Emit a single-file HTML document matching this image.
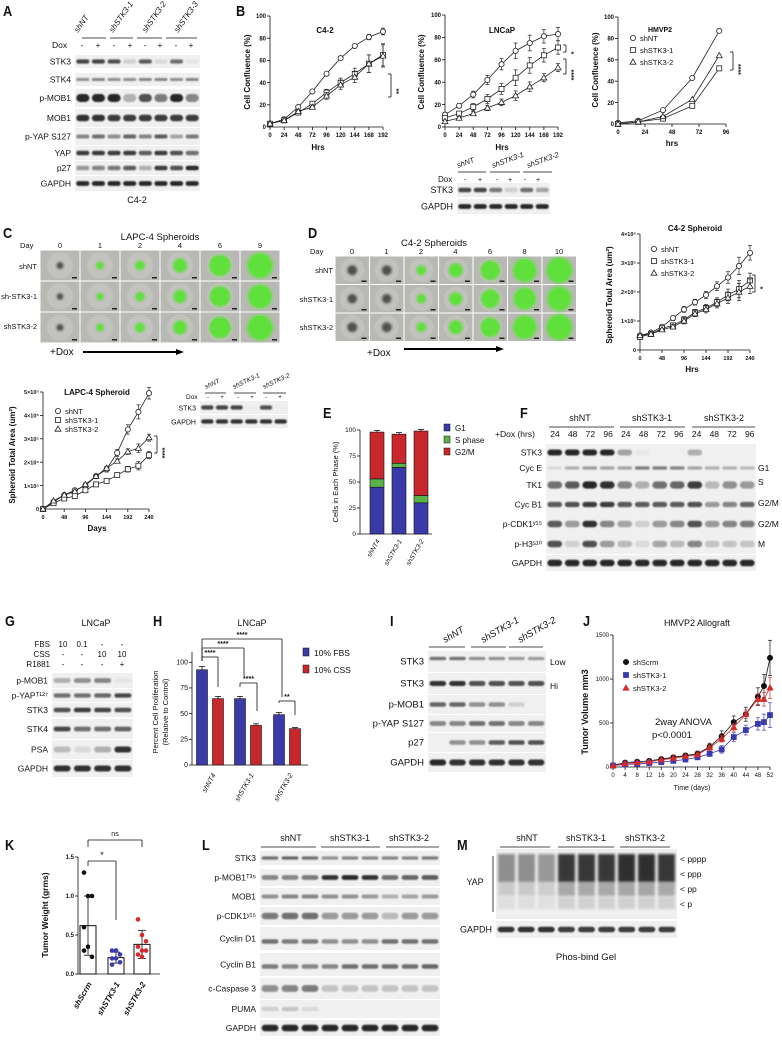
<!DOCTYPE html>
<html><head><meta charset="utf-8">
<style>
html,body{margin:0;padding:0;background:#fff;}
svg{display:block;font-family:"Liberation Sans",sans-serif;}
</style></head>
<body>
<svg id="fig" width="782" height="1040" viewBox="0 0 782 1040" xmlns="http://www.w3.org/2000/svg">
<defs>
<filter id="blur" x="-20%" y="-50%" width="140%" height="200%"><feGaussianBlur stdDeviation="0.9"/></filter>
<filter id="blur2" x="-20%" y="-20%" width="140%" height="140%"><feGaussianBlur stdDeviation="1.2"/></filter>
</defs>
<rect x="0" y="0" width="782" height="1040" fill="#fff"/>
</svg>
<script>
// ---------- DATA ----------
const hrsB = [0,24,48,72,96,120,144,168,192];
const c42_shNT = [3,7,18,32,48,62,73,81,86];
const c42_sh1 = [3,6,13,21,31,40,48,57,65];
const c42_sh2 = [3,6,14,18,28,38,45,57,64];
const c42_err = [1,1,2,2,3,4,5,8,10];
const ln_shNT = [11,19,29,42,56,68,75,81,83];
const ln_sh1 = [8,12,18,25,34,44,55,64,71];
const ln_sh2 = [5,8,12,17,22,28,36,44,53];
const ln_err = [2,2,3,4,5,7,7,6,6];
const hmHrs = [0,18,40,66,90];
const hm_shNT = [1,3,13,43,87];
const hm_sh1 = [0,2,5,17,52];
const hm_sh2 = [0,2,7,23,64];
const sphHrs = [0,24,48,72,96,120,144,168,192,216,240];
const c42s_shNT = [0.5,0.6,0.8,1.1,1.4,1.65,1.9,2.2,2.5,2.9,3.35];
const c42s_sh1 = [0.45,0.55,0.75,0.85,1.05,1.3,1.45,1.65,1.9,2.1,2.4];
const c42s_sh2 = [0.5,0.55,0.7,0.8,1.0,1.25,1.4,1.6,1.8,2.0,2.2];
const lap_shNT = [0,0.3,0.6,0.8,1.0,1.4,1.7,2.4,3.4,4.15,4.95];
const lap_sh1 = [0,0.25,0.45,0.55,0.8,1.05,1.2,1.45,1.7,1.85,2.3];
const lap_sh2 = [0,0.35,0.6,0.75,1.05,1.4,1.75,2.05,2.45,2.6,3.05];
const sphErr = [0.05,0.05,0.05,0.08,0.1,0.1,0.12,0.15,0.2,0.3,0.25];
const eCats = ['shNT4','shSTK3-1','shSTK3-2'];
const eG1 = [45,64,30];
const eS = [8,4,7];
const eG2M = [45,28,62];
const hCats = ['shNT4','shSTK3-1','shSTK3-2'];
const hFBS = [89,62,47];
const hCSS = [62,37,34];
const hFBSerr = [3,2,2];
const hCSSerr = [2,1.5,1];
const jDays = [0,4,8,12,16,20,24,28,32,36,40,44,48,50,52];
const j_scrm = [20,50,60,70,90,110,130,150,230,350,510,600,800,920,1240];
const j_sh1 = [15,30,35,45,55,70,85,110,150,200,340,420,490,510,590];
const j_sh2 = [15,40,50,60,80,100,120,140,220,320,450,600,770,770,900];
const j_err = [5,10,10,15,15,20,25,30,40,60,70,80,100,130,200];
const kCats = ['shScrm','shSTK3-1','shSTK3-2'];
const kMeans = [0.62,0.21,0.38];
const kSD = [0.38,0.07,0.18];
const kPts0 = [1.3,1.0,1.0,0.6,0.35,0.22,0.3];
const kPts1 = [0.3,0.3,0.25,0.2,0.2,0.15,0.12,0.3];
const kPts2 = [0.7,0.5,0.42,0.35,0.3,0.3,0.25,0.22];

// ---------- HELPERS ----------
const NS='http://www.w3.org/2000/svg';
const root=document.getElementById('fig');
function mk(tag,a,p){const e=document.createElementNS(NS,tag);for(const k in a)e.setAttribute(k,a[k]);(p||root).appendChild(e);return e;}
function T(x,y,s,name,o){o=o||{};
  const e=mk('text',{x:x,y:y,'font-size':o.fs||8,'text-anchor':o.anchor||'start',fill:o.fill||'#111'},o.p);
  if(o.bold)e.setAttribute('font-weight','bold');
  if(o.italic)e.setAttribute('font-style','italic');
  if(o.rot)e.setAttribute('transform','rotate('+o.rot+' '+x+' '+y+')');
  e.textContent=s;
  
  
  return e;}
function L(x1,y1,x2,y2,name,o){o=o||{};
  const e=mk('line',{x1:x1,y1:y1,x2:x2,y2:y2,stroke:o.c||'#111','stroke-width':o.w||0.8},o.p);
  
  
  return e;}
function panel(x,y,s){
  const e=T(x,y,s,'panel-label-'+s.toLowerCase(),{fs:15,bold:true});
  e.setAttribute('transform','scale(0.85,1) translate('+(x/0.85-x)+',0)');
}
function blot(name,x,y,w,h,vals,o){o=o||{};
  const g=mk('g',{});
  
  
  mk('rect',{x:x,y:y,width:w,height:h,fill:o.bg||'#f0f0f0'},g);
  const n=vals.length,lw=w/n;
  const bh=(o.bh||0.4)*h*0.8;
  for(let i=0;i<n;i++){
    const b=mk('rect',{x:x+i*lw+lw*0.08,y:y+h/2-bh/2+(o.off||0),width:lw*0.84,height:bh,rx:bh/2,fill:'#000',opacity:vals[i]*0.88,filter:'url(#blur)'},g);
    
    
  }
  if(o.label) T(x-4,y+h/2+3,o.label,name+'-label',{anchor:'end',fs:o.fs||8.5});
  return g;}
function marker(g,type,x,y,color,fill){
  let e;
  if(type==='circle') e=mk('circle',{cx:x,cy:y,r:2.6,fill:fill||'#fff',stroke:color,'stroke-width':0.8},g);
  else if(type==='square') e=mk('rect',{x:x-2.5,y:y-2.5,width:5,height:5,fill:fill||'#fff',stroke:color,'stroke-width':0.8},g);
  else e=mk('polygon',{points:(x)+','+(y-3)+' '+(x-3)+','+(y+2.2)+' '+(x+3)+','+(y+2.2),fill:fill||'#fff',stroke:color,'stroke-width':0.8},g);
  
  
}
function axes(name,c){
  const sx=v=>c.px0+(v-c.xmin)/(c.xmax-c.xmin)*(c.px1-c.px0);
  const sy=v=>c.py0-(v-c.ymin)/(c.ymax-c.ymin)*(c.py0-c.py1);
  L(c.px0,c.py0,c.px0,c.py1,name+'-y-axis');
  L(c.px0,c.py0,c.xend||c.px1,c.py0,name+'-x-axis');
  const fs=c.fs||6.5;
  (c.yticks||[]).forEach((v,i)=>{L(c.px0-3,sy(v),c.px0,sy(v),name+'-y-tick');
    T(c.px0-4,sy(v)+2.2,c.ylabels[i],name+'-y-tick-label',{anchor:'end',fs:fs,bold:c.bold});});
  (c.xticks||[]).forEach((v,i)=>{L(sx(v),c.py0,sx(v),c.py0+3,name+'-x-tick');
    T(sx(v),c.py0+10,c.xlabels[i],name+'-x-tick-label',{anchor:'middle',fs:fs,bold:c.bold});});
  return {sx:sx,sy:sy};
}
function series(name,ax,xs,ys,type,color,err,fill,scale){
  scale=scale||1;
  const g=mk('g',{});
  
  
  const pts=xs.map((x,i)=>ax.sx(x)+','+ax.sy(ys[i]*scale)).join(' ');
  mk('polyline',{points:pts,fill:'none',stroke:color,'stroke-width':0.8},g);
  if(err) xs.forEach((x,i)=>{const X=ax.sx(x),y1=ax.sy((ys[i]+err[i])*scale),y2=ax.sy((ys[i]-err[i])*scale);
    mk('line',{x1:X,y1:y1,x2:X,y2:y2,stroke:color,'stroke-width':0.7},g);
    mk('line',{x1:X-2,y1:y1,x2:X+2,y2:y1,stroke:color,'stroke-width':0.7},g);
    mk('line',{x1:X-2,y1:y2,x2:X+2,y2:y2,stroke:color,'stroke-width':0.7},g);});
  xs.forEach((x,i)=>marker(g,type,ax.sx(x),ax.sy(ys[i]*scale),color,fill));
}
function legendEntry(x,y,type,label,color,fill){
  const g=mk('g',{});
  
  
  marker(g,type,x,y,color,fill);
  T(x+7,y+3,label,'legend-label',{fs:7.5,p:g});
}
function bracket(x,y1,y2,label,name){
  L(x,y1,x+3,y1,name);L(x+3,y1,x+3,y2,name);L(x,y2,x+3,y2,name);
  T(x+6,(y1+y2)/2+3,label,name+'-label',{fs:7,bold:true,rot:90});
}

// ---------- PANEL A ----------
panel(3,16,'A');
[['shNT',92],['shSTK3-1',127],['shSTK3-2',160],['shSTK3-3',192]].forEach(h=>T(h[1]-14,33,h[0],'lane-header-'+h[0],{fs:8,italic:true,rot:-55}));
[[82,106],[110,133],[137,162],[166,197]].forEach(s=>L(s[0],38,s[1],38,'group-underline'));
T(52,48,'Dox','dox-label',{fs:8.5});
const aLanes=[82,98,114,130,145,160,176,191];
aLanes.forEach((x,i)=>T(x,48,i%2?'+':'-','dox-mark',{fs:8,anchor:'middle'}));
blot('blot-a-stk3',75,55,125,13,[.8,.8,.75,.15,.7,.1,.6,.05],{label:'STK3'});
blot('blot-a-stk4',75,73,125,13,[.45,.5,.45,.45,.5,.5,.45,.5],{label:'STK4',bh:.3});
blot('blot-a-pmob1',75,89,125,18,[.95,.95,.95,.3,.75,.55,.95,.5],{label:'p-MOB1',bh:.55});
blot('blot-a-mob1',75,109,125,18,[.9,.9,.85,.85,.85,.85,.85,.85],{label:'MOB1',bh:.45});
blot('blot-a-pyap',75,128,125,17,[.5,.6,.45,.65,.5,.7,.35,.55],{label:'p-YAP S127',bh:.3});
blot('blot-a-yap',75,146,125,14,[.85,.85,.85,.85,.7,.85,.75,.6],{label:'YAP',bh:.4});
blot('blot-a-p27',75,161,125,14,[.4,.5,.55,.7,.3,.85,.75,.95],{label:'p27',bh:.4});
blot('blot-a-gapdh',75,176,125,15,[.95,.95,.95,.95,.95,.95,.95,.95],{label:'GAPDH',bh:.4});
T(137,203,'C4-2','panel-a-cell-line',{fs:9,anchor:'middle'});

// ---------- PANEL B ----------
panel(236,16,'B');
const hrsTicks=[0,24,48,72,96,120,144,168,192];
const hrsLbl=hrsTicks.map(String);
const pctTicks=[0,20,40,60,80,100];
const pctLbl=pctTicks.map(String);
let ax=axes('c42-chart',{px0:270,px1:383,py0:127,py1:16,xmin:0,xmax:192,ymin:0,ymax:100,xticks:hrsTicks,xlabels:hrsLbl,yticks:pctTicks,ylabels:pctLbl,bold:true,fs:6});
T(325,33,'C4-2','c42-title',{fs:8,bold:true,anchor:'middle'});
T(318,150,'Hrs','c42-x-title',{fs:8,bold:true,anchor:'middle'});
T(250,72,'Cell Confluence (%)','c42-y-title',{fs:8,bold:true,anchor:'middle',rot:-90});
series('c42-shnt',ax,hrsB,c42_shNT,'circle','#222',c42_err.map(v=>v*0.3));
series('c42-sh1',ax,hrsB,c42_sh1,'square','#222',c42_err);
series('c42-sh2',ax,hrsB,c42_sh2,'triangle','#222',c42_err);
bracket(388,74,97,'**','c42-sig');

ax=axes('lncap-chart',{px0:445,px1:558,py0:127,py1:15,xmin:0,xmax:192,ymin:0,ymax:100,xticks:hrsTicks,xlabels:hrsLbl,yticks:pctTicks,ylabels:pctLbl,bold:true,fs:6});
T(502,33,'LNCaP','lncap-title',{fs:8,bold:true,anchor:'middle'});
T(502,150,'Hrs','lncap-x-title',{fs:8,bold:true,anchor:'middle'});
T(424,72,'Cell Confluence (%)','lncap-y-title',{fs:8,bold:true,anchor:'middle',rot:-90});
series('lncap-shnt',ax,hrsB,ln_shNT,'circle','#222',ln_err);
series('lncap-sh1',ax,hrsB,ln_sh1,'square','#222',ln_err);
series('lncap-sh2',ax,hrsB,ln_sh2,'triangle','#222',ln_err.map(v=>v*0.6));
bracket(563,45,52,'*','lncap-sig1');
bracket(563,59,74,'****','lncap-sig2');

ax=axes('hmvp2-chart',{px0:618,px1:726,py0:124,py1:17,xmin:0,xmax:96,ymin:0,ymax:100,xticks:[0,24,48,72,96],xlabels:['0','24','48','72','96'],yticks:pctTicks,ylabels:pctLbl,bold:true,fs:6});
T(660,32,'HMVP2','hmvp2-title',{fs:7,bold:true,anchor:'middle'});
T(672,146,'hrs','hmvp2-x-title',{fs:8,bold:true,anchor:'middle'});
T(598,70,'Cell Confluence (%)','hmvp2-y-title',{fs:8,bold:true,anchor:'middle',rot:-90});
series('hmvp2-shnt',ax,hmHrs,hm_shNT,'circle','#222');
series('hmvp2-sh1',ax,hmHrs,hm_sh1,'square','#222');
series('hmvp2-sh2',ax,hmHrs,hm_sh2,'triangle','#222');
legendEntry(633,38,'circle','shNT','#222');
legendEntry(633,50,'square','shSTK3-1','#222');
legendEntry(633,62,'triangle','shSTK3-2','#222');
bracket(730,52,70,'****','hmvp2-sig');

// LNCaP blot
[['shNT',470],['shSTK3-1',505],['shSTK3-2',540]].forEach(h=>T(h[1]-12,168,h[0],'lncap-blot-header',{fs:7.5,italic:true,rot:-20}));
[[458,486],[490,520],[523,552]].forEach(s=>L(s[0],172,s[1],172,'lncap-blot-underline'));
T(438,182,'Dox','lncap-dox-label',{fs:8});
[465,480,497,510,525,538].forEach((x,i)=>T(x,182,i%2?'+':'-','lncap-dox-mark',{fs:7,anchor:'middle'}));
blot('blot-b-stk3',457,183,93,14,[.8,.8,.55,.15,.6,.35],{label:'STK3',fs:9});
blot('blot-b-gapdh',457,199,93,15,[.95,.95,.95,.95,.95,.95],{label:'GAPDH',fs:9});

// ---------- SPHEROID IMAGES ----------
function grid(name,x0,y0,cw,rh,rows,radii,grayCols){
  const g=mk('g',{});
  
  
  rows.forEach((rf,r)=>radii.forEach((rad,c)=>{
    const x=x0+c*cw,y=y0+r*rh;
    mk('rect',{x:x+0.5,y:y+0.5,width:cw-1,height:rh-1,fill:'#b8b8b4'},g);
    mk('circle',{cx:x+cw/2,cy:y+rh/2,r:rh*0.42,fill:'#c2c2be'},g);
    const gray=c<grayCols;
    const cc=mk('circle',{cx:x+cw/2,cy:y+rh/2,r:rad*rf,fill:gray?'#505050':'#5fe03a',filter:'url(#blur2)'},g);
    
    
    mk('rect',{x:x+cw-8,y:y+rh-4,width:5,height:1.5,fill:'#222'},g);
  }));
}
panel(3,238,'C');
T(160,240,'LAPC-4 Spheroids','lapc4-images-title',{fs:9.5,anchor:'middle'});
T(20,248,'Day','lapc4-day-label',{fs:7.5});
['0','1','2','4','6','9'].forEach((d,i)=>T(60+i*40,248,d,'lapc4-day',{fs:7.5,anchor:'middle'}));
grid('lapc4-image-grid',40,250,40,31,[1,0.95,1],[3.5,4,5,7,11,13],1);
T(37,269,'shNT','lapc4-row-label',{fs:7.5,anchor:'end'});
T(37,299,'sh-STK3-1','lapc4-row-label',{fs:7.5,anchor:'end'});
T(37,329,'shSTK3-2','lapc4-row-label',{fs:7.5,anchor:'end'});
T(50,355,'+Dox','lapc4-dox',{fs:10});
mk('line',{x1:83,y1:352,x2:176,y2:352,stroke:'#000','stroke-width':2});
mk('polygon',{points:'176,349 184,352 176,355',fill:'#000'});

panel(308,238,'D');
T(434,246,'C4-2 Spheroids','c42-images-title',{fs:9.5,anchor:'middle'});
T(310,254,'Day','c42-day-label',{fs:7.5});
['0','1','2','4','6','8','10'].forEach((d,i)=>T(352+i*34.5,254,d,'c42-day',{fs:7.5,anchor:'middle'}));
grid('c42-image-grid',335,256,34.5,28.5,[1,0.95,1],[5,5,5,7,10,12,13],2);
T(333,273,'shNT','c42-row-label',{fs:7.5,anchor:'end'});
T(333,302,'shSTK3-1','c42-row-label',{fs:7.5,anchor:'end'});
T(333,330,'shSTK3-2','c42-row-label',{fs:7.5,anchor:'end'});
T(367,356,'+Dox','c42-dox',{fs:10});
mk('line',{x1:404,y1:349,x2:496,y2:349,stroke:'#000','stroke-width':2});
mk('polygon',{points:'496,346 504,349 496,352',fill:'#000'});

// C4-2 spheroid chart
const sphTicks=[0,48,96,144,192,240];
const sphLbl=sphTicks.map(String);
ax=axes('c42-spheroid-chart',{px0:640,px1:750,py0:350,py1:234,xmin:0,xmax:240,ymin:0,ymax:4,xticks:sphTicks,xlabels:sphLbl,yticks:[0,1,2,3,4],ylabels:['0','1×10⁵','2×10⁵','3×10⁵','4×10⁵'],bold:true,fs:5.5});
T(695,231,'C4-2 Spheroid','c42-spheroid-title',{fs:8,bold:true,anchor:'middle'});
T(692,372,'Hrs','c42-spheroid-x-title',{fs:8,bold:true,anchor:'middle'});
T(612,295,'Spheroid Total  Area (um²)','c42-spheroid-y-title',{fs:8,bold:true,anchor:'middle',rot:-90});
series('c42-spheroid-shnt',ax,sphHrs,c42s_shNT,'circle','#222',sphErr);
series('c42-spheroid-sh1',ax,sphHrs,c42s_sh1,'square','#222',sphErr);
series('c42-spheroid-sh2',ax,sphHrs,c42s_sh2,'triangle','#222',sphErr);
legendEntry(654,249,'circle','shNT','#222');
legendEntry(654,261,'square','shSTK3-1','#222');
legendEntry(654,273,'triangle','shSTK3-2','#222');
bracket(752,275,292,'*','c42-spheroid-sig');

// LAPC-4 spheroid chart
ax=axes('lapc4-spheroid-chart',{px0:43,px1:149,py0:509,py1:392,xmin:0,xmax:240,ymin:0,ymax:5,xticks:sphTicks,xlabels:sphLbl,yticks:[0,1,2,3,4,5],ylabels:['0','1×10⁵','2×10⁵','3×10⁵','4×10⁵','5×10⁵'],bold:true,fs:5.5});
T(97,395,'LAPC-4  Spheroid','lapc4-spheroid-title',{fs:8,bold:true,anchor:'middle'});
T(97,531,'Days','lapc4-spheroid-x-title',{fs:8,bold:true,anchor:'middle'});
T(15,455,'Spheroid Total  Area (um²)','lapc4-spheroid-y-title',{fs:8,bold:true,anchor:'middle',rot:-90});
series('lapc4-spheroid-shnt',ax,sphHrs,lap_shNT,'circle','#222',sphErr);
series('lapc4-spheroid-sh1',ax,sphHrs,lap_sh1,'square','#222',sphErr.map(v=>v*0.6));
series('lapc4-spheroid-sh2',ax,sphHrs,lap_sh2,'triangle','#222',sphErr.map(v=>v*0.6));
legendEntry(58,411,'circle','shNT','#222');
legendEntry(58,420,'square','shSTK3-1','#222');
legendEntry(58,429,'triangle','shSTK3-2','#222');
bracket(154,436,453,'****','lapc4-spheroid-sig');
[['shNT',212],['shSTK3-1',240],['shSTK3-2',270]].forEach(h=>T(h[1]-6,389,h[0],'lapc4-blot-header',{fs:6.5,italic:true,rot:-25}));
[[205,226],[234,256],[263,286]].forEach(s=>L(s[0],393,s[1],393,'lapc4-blot-underline'));
T(186,399,'Dox','lapc4-dox-label',{fs:6.5});
[208,222,238,252,266,280].forEach((x,i)=>T(x,399,i%2?'+':'-','lapc4-dox-mark',{fs:6,anchor:'middle'}));
blot('blot-lapc4-stk3',200,401,88,13,[.8,.8,.8,.02,.75,.02],{label:'STK3',fs:7});
blot('blot-lapc4-gapdh',200,415,88,13,[.9,.9,.9,.9,.9,.9],{label:'GAPDH',fs:7});

// ---------- PANEL E ----------
panel(323,418,'E');
const eAxY0=534,eAxY1=430,eScale=v=>eAxY0-v/100*(eAxY0-eAxY1);
axes('e-chart',{px0:360,px1:432,py0:534,py1:430,xmin:0,xmax:100,ymin:0,ymax:100,xticks:[],xlabels:[],yticks:[0,25,50,75,100],ylabels:['0','25','50','75','100'],fs:6.5});
T(338,482,'Cells in Each Phase (%)','e-y-title',{fs:7.5,anchor:'middle',rot:-90});
const eX=[377,399,421];
eCats.forEach((c,i)=>{
  let base=0;
  [[eG1,'#3a3aa8'],[eS,'#5ab34a'],[eG2M,'#c8282c']].forEach(s=>{
    const r=mk('rect',{x:eX[i]-7,y:eScale(base+s[0][i]),width:14,height:eScale(base)-eScale(base+s[0][i]),fill:s[1],stroke:'#111','stroke-width':0.6});
    
    
    base+=s[0][i];
  });
  L(eX[i],eScale(base),eX[i],eScale(base+1.5),'e-error');
  L(eX[i]-3,eScale(base+1.5),eX[i]+3,eScale(base+1.5),'e-error');
  T(eX[i]+3,541,c,'e-x-label',{fs:6.5,anchor:'end',rot:-60,italic:true});
});
[['G1','#3a3aa8',428],['S phase','#5ab34a',440],['G2/M','#c8282c',452]].forEach(l=>{
  const r=mk('rect',{x:444,y:l[2]-4,width:6,height:7,fill:l[1],stroke:'#111','stroke-width':0.5});
  
  
  T(455,l[2]+3,l[0],'e-legend-label',{fs:8});});

// ---------- PANEL F ----------
panel(520,418,'F');
[['shNT',580],['shSTK3-1',652],['shSTK3-2',724]].forEach(h=>T(h[1],421,h[0],'f-group-header',{fs:9,anchor:'middle'}));
[[549,614],[620,685],[692,755]].forEach(s=>L(s[0],427,s[1],427,'f-group-underline'));
T(495,437,'+Dox (hrs)','f-dox-label',{fs:8.5});
const fT=['24','48','72','96','24','48','72','96','24','48','72','96'];
fT.forEach((t,i)=>T(555+i*17.7,437,t,'f-time-label',{fs:8.5,anchor:'middle'}));
blot('blot-f-stk3',546,444,210,17,[.95,.95,.95,.95,.35,.03,0,0,.3,0,0,0],{label:'STK3',bh:.45});
blot('blot-f-cyce',546,461,210,14,[.1,.3,.4,.35,.35,.55,.55,.5,.35,.3,.3,.25],{label:'Cyc E',bh:.3});
blot('blot-f-tk1',546,475,210,20,[.6,.7,.95,.9,.5,.3,.6,.65,.85,.25,.45,.4],{label:'TK1',bh:.45});
blot('blot-f-cycb1',546,495,210,19,[.7,.75,.85,.85,.7,.7,.7,.7,.75,.4,.5,.65],{label:'Cyc B1',bh:.35});
blot('blot-f-pcdk1',546,514,210,20,[.7,.4,.9,.5,.35,.15,.4,.5,.75,.4,.5,.55],{label:'p-CDK1ʸ¹⁵',bh:.4});
blot('blot-f-ph3',546,534,210,20,[.75,.15,.75,.4,.25,.1,.35,.25,.5,.2,.2,.2],{label:'p-H3ˢ¹⁰',bh:.4});
blot('blot-f-gapdh',546,555,210,16,[.95,.95,.95,.95,.95,.95,.95,.95,.95,.95,.95,.95],{label:'GAPDH',bh:.5});
[['G1',471],['S',485],['G2/M',506],['G2/M',527],['M',547]].forEach(l=>T(758,l[1],l[0],'f-phase-label',{fs:8.5}));

// ---------- PANEL G ----------
panel(5,626,'G');
T(96,626,'LNCaP','g-title',{fs:9,anchor:'middle'});
T(50,647,'FBS','g-fbs-label',{fs:8,anchor:'end'});
T(50,657,'CSS','g-css-label',{fs:8,anchor:'end'});
T(50,667,'R1881','g-r1881-label',{fs:8,anchor:'end'});
const gX=[63,82,102,122];
[['10','0.1','-','-'],['-','-','10','10'],['-','-','-','+']].forEach((row,r)=>row.forEach((v,i)=>T(gX[i],647+r*10,v,'g-condition',{fs:8,anchor:'middle'})));
blot('blot-g-pmob1',52,673,81,15,[.3,.45,.5,.05],{label:'p-MOB1'});
blot('blot-g-pyap',52,689,81,13,[.6,.6,.65,.8],{label:'p-YAPᵀ¹²⁷'});
blot('blot-g-stk3',52,703,81,14,[.75,.85,.8,.75],{label:'STK3'});
blot('blot-g-stk4',52,719,81,20,[.8,.6,.6,.65],{label:'STK4',bh:.3});
blot('blot-g-psa',52,740,81,19,[.25,.1,.3,.9],{label:'PSA',bh:.4});
blot('blot-g-gapdh',52,760,81,17,[.9,.9,.9,.9],{label:'GAPDH',bh:.45});

// ---------- PANEL H ----------
panel(153,626,'H');
T(252,626,'LNCaP','h-title',{fs:9,anchor:'middle'});
const hy=v=>765-v/100*(765-658);
axes('h-chart',{px0:192,px1:308,py0:765,py1:652,xmin:0,xmax:100,ymin:0,ymax:110,xticks:[],xlabels:[],yticks:[0,25,50,75,100],ylabels:['0','25','50','75','100'],fs:7});
T(158,712,'Percent Cell  Proliferation','h-y-title',{fs:7.5,anchor:'middle',rot:-90});
T(168,712,'(Relative to Control)','h-y-title-2',{fs:7.5,anchor:'middle',rot:-90});
const hX=[210,248,287];
hCats.forEach((c,i)=>{
  [[hFBS,hFBSerr,'#3a3aa8',-8],[hCSS,hCSSerr,'#c8282c',8]].forEach(s=>{
    const x=hX[i]+s[3];
    const r=mk('rect',{x:x-5.5,y:hy(s[0][i]),width:11,height:765-hy(s[0][i]),fill:s[2],stroke:'#111','stroke-width':0.6});
    
    
    L(x,hy(s[0][i]),x,hy(s[0][i]+s[1][i]),'h-error');
    L(x-3,hy(s[0][i]+s[1][i]),x+3,hy(s[0][i]+s[1][i]),'h-error');
  });
  T(hX[i]+6,775,c,'h-x-label',{fs:7,anchor:'end',rot:-60,italic:true});
});
function sig(x1,x2,y,yb1,yb2,label,name){
  L(x1,y,x2,y,name);L(x1,y,x1,yb1,name);L(x2,y,x2,yb2,name);
  T((x1+x2)/2,y-2,label,name+'-label',{fs:7,bold:true,anchor:'middle'});
}
sig(202,218,657,661,687,'****','h-sig-1');
sig(202,244,648,661,676,'****','h-sig-2');
sig(202,282,639,661,697,'****','h-sig-3');
sig(240,257,683,687,711,'****','h-sig-4');
sig(279,295,701,703,715,'**','h-sig-5');
[['10% FBS','#3a3aa8',653],['10% CSS','#c8282c',670]].forEach(l=>{
  const r=mk('rect',{x:303,y:l[2]-5,width:6,height:8,fill:l[1],stroke:'#111','stroke-width':0.5});
  
  
  T(314,l[2]+3,l[0],'h-legend-label',{fs:8.5});});

// ---------- PANEL I ----------
panel(390,626,'I');
[['shNT',455],['shSTK3-1',493],['shSTK3-2',530]].forEach(h=>T(h[1]-10,643,h[0],'i-header',{fs:9.5,italic:true,rot:-30}));
[[429,465],[471,506],[509,543]].forEach(s=>L(s[0],647,s[1],647,'i-underline'));
blot('blot-i-stk3-low',428,651,118,21,[.6,.6,.45,.45,.4,.4],{label:'STK3',fs:9.5,bh:.2,off:-3});
blot('blot-i-stk3-hi',428,673,118,21,[.9,.9,.75,.75,.75,.75],{label:'STK3',fs:9.5,bh:.3});
blot('blot-i-pmob1',428,695,118,19,[.65,.65,.45,.45,.15,0],{label:'p-MOB1',fs:9.5,bh:.3});
blot('blot-i-pyap',428,715,118,17,[.5,.5,.6,.6,.5,.5],{label:'p-YAP S127',fs:9.5,bh:.35});
blot('blot-i-p27',428,733,118,19,[0,.45,.45,.7,.75,.75],{label:'p27',fs:9.5,bh:.3});
blot('blot-i-gapdh',428,753,118,19,[.95,.9,.9,.9,.9,.9],{label:'GAPDH',fs:9.5,bh:.4});
T(550,665,'Low','i-low-label',{fs:8.5});
T(550,689,'Hi','i-hi-label',{fs:8.5});

// ---------- PANEL J ----------
panel(583,626,'J');
T(697,626,'HMVP2 Allograft','j-title',{fs:9,anchor:'middle'});
const jTicks=[0,4,8,12,16,20,24,28,32,36,40,44,48,52];
ax=axes('j-chart',{px0:613,px1:770,py0:767,py1:635,xmin:0,xmax:52,ymin:0,ymax:1500,xticks:jTicks,xlabels:jTicks.map(String),yticks:[0,500,1000,1500],ylabels:['0','500','1000','1500'],fs:6});
T(692,790,'Time (days)','j-x-title',{fs:7,anchor:'middle'});
T(588,712,'Tumor  Volume mm3','j-y-title',{fs:9,bold:true,anchor:'middle',rot:-90});
series('j-shscrm',ax,jDays,j_scrm,'circle','#111',j_err,'#111');
series('j-sh1',ax,jDays,j_sh1,'square','#3b3bb0',j_err.map(v=>v*0.7),'#3b3bb0');
series('j-sh2',ax,jDays,j_sh2,'triangle','#d42a2a',j_err.map(v=>v*0.6),'#d42a2a');
legendEntry(626,662,'circle','shScrm','#111','#111');
legendEntry(626,675,'square','shSTK3-1','#3b3bb0','#3b3bb0');
legendEntry(626,688,'triangle','shSTK3-2','#d42a2a','#d42a2a');
T(655,725,'2way ANOVA','j-anova',{fs:9.5});
T(672,738,'p<0.0001','j-pvalue',{fs:9.5,anchor:'middle'});

// ---------- PANEL K ----------
panel(5,850,'K');
const ky=v=>974-v/1.5*(974-857);
axes('k-chart',{px0:78,px1:160,py0:974,py1:857,xmin:0,xmax:1,ymin:0,ymax:1.5,xticks:[],xlabels:[],yticks:[0,0.5,1.0,1.5],ylabels:['0.0','0.5','1.0','1.5'],bold:true,fs:6});
T(48,915,'Tumor Weight (grms)','k-y-title',{fs:8.5,bold:true,anchor:'middle',rot:-90});
const kX=[88,116,142],kCol=['#111','#3b3bb0','#d42a2a'],kPts=[kPts0,kPts1,kPts2];
kCats.forEach((c,i)=>{
  const r=mk('rect',{x:kX[i]-8,y:ky(kMeans[i]),width:16,height:974-ky(kMeans[i]),fill:'#fff',stroke:'#111','stroke-width':1});
  
  
  L(kX[i],ky(kMeans[i]-kSD[i]),kX[i],ky(kMeans[i]+kSD[i]),'k-error');
  L(kX[i]-4,ky(kMeans[i]+kSD[i]),kX[i]+4,ky(kMeans[i]+kSD[i]),'k-error');
  L(kX[i]-4,ky(kMeans[i]-kSD[i]),kX[i]+4,ky(kMeans[i]-kSD[i]),'k-error');
  kPts[i].forEach((v,j)=>{
    const d=mk('circle',{cx:kX[i]+((j%3)-1)*4,cy:ky(v),r:2.3,fill:kCol[i]});
    
    
  });
  T(kX[i]+4,984,c,'k-x-label',{fs:8,bold:true,italic:true,anchor:'end',rot:-60});
});
L(88,840,142,840,'k-sig-ns');L(88,840,88,847,'k-sig-ns');L(142,840,142,847,'k-sig-ns');
T(115,836,'ns','k-ns-label',{fs:7,anchor:'middle'});
L(88,861,116,861,'k-sig-star');L(88,861,88,866,'k-sig-star');L(116,861,116,920,'k-sig-star');
T(102,858,'*','k-star-label',{fs:9,anchor:'middle'});

// ---------- PANEL L ----------
panel(202,850,'L');
[['shNT',291],['shSTK3-1',350],['shSTK3-2',409]].forEach(h=>T(h[1],841,h[0],'l-group-header',{fs:9,anchor:'middle'}));
[[261,316],[321,380],[386,439]].forEach(s=>L(s[0],847,s[1],847,'l-underline'));
blot('blot-l-stk3',260,851,180,14,[.6,.65,.6,.45,.5,.5,.5,.5,.55],{label:'STK3',bh:.3});
blot('blot-l-pmob1',260,869,180,17,[.5,.5,.55,.9,.95,.9,.6,.65,.7],{label:'p-MOB1ᵀ³⁵',bh:.35});
blot('blot-l-mob1',260,888,180,17,[.45,.5,.5,.45,.45,.4,.3,.35,.4],{label:'MOB1',bh:.3});
blot('blot-l-pcdk1',260,907,180,18,[.55,.6,.6,.4,.4,.4,.25,.4,.4],{label:'p-CDK1ʸ¹⁵',bh:.45});
blot('blot-l-cycd1',260,927,180,23,[.6,.55,.55,.45,.45,.45,.6,.6,.6],{label:'Cyclin D1',bh:.25,off:3});
blot('blot-l-cycb1',260,953,180,23,[.55,.5,.5,.5,.6,.6,.6,.6,.65],{label:'Cyclin B1',bh:.25,off:2});
blot('blot-l-ccasp3',260,978,180,21,[.45,.5,.55,.2,.2,.2,.2,.2,.2],{label:'c-Caspase 3',bh:.4});
blot('blot-l-puma',260,1000,180,18,[.15,.2,.1,0,0,0,0,0,0],{label:'PUMA',bh:.3});
blot('blot-l-gapdh',260,1020,180,16,[.95,.95,.95,.95,.95,.95,.95,.95,.95],{label:'GAPDH',bh:.5});

// ---------- PANEL M ----------
panel(457,850,'M');
[['shNT',527],['shSTK3-1',586],['shSTK3-2',645]].forEach(h=>T(h[1],841,h[0],'m-group-header',{fs:9,anchor:'middle'}));
[[500,550],[558,614],[620,670]].forEach(s=>L(s[0],847,s[1],847,'m-underline'));
(function(){
  const g=mk('g',{});
  
  
  mk('rect',{x:496,y:849,width:181,height:70,fill:'#efefef'},g);
  const dens=[.5,.5,.45,.95,.95,.95,1,1,.95];
  for(let i=0;i<9;i++){
    const x=498+i*20;
    mk('rect',{x:x,y:854,width:17,height:28,fill:'#000',opacity:dens[i]*0.8,filter:'url(#blur2)'},g);
    mk('rect',{x:x,y:882,width:17,height:14,fill:'#000',opacity:dens[i]*0.3,filter:'url(#blur2)'},g);
    mk('rect',{x:x,y:897,width:17,height:12,fill:'#000',opacity:dens[i]*0.13,filter:'url(#blur2)'},g);
  }
})();
L(493,856,493,912,'m-yap-bracket');
T(475,885,'YAP','m-yap-label',{fs:9,anchor:'middle'});
[['pppp',862],['ppp',877],['pp',892],['p',907]].forEach(a=>T(680,a[1],'< '+a[0],'m-phospho-arrow',{fs:8.5}));
blot('blot-m-gapdh',496,921,181,17,[.9,.9,.9,.85,.85,.85,.85,.85,.85],{label:'GAPDH',fs:9,bh:.4});
T(586,960,'Phos-bind Gel','m-caption',{fs:9.5,anchor:'middle'});
</script>
</body></html>
